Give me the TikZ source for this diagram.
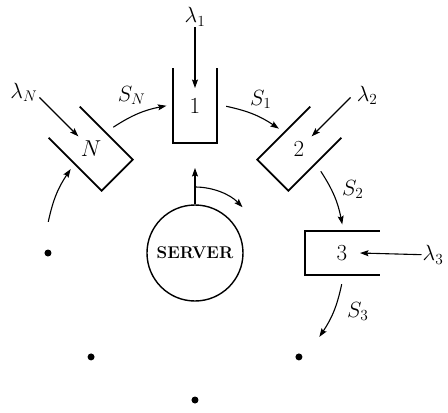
\RequirePackage{fix-cm}
\documentclass[tikz,border=0pt]{standalone}
\usepackage{amsmath,amssymb}
\usepackage{tikz}
\usetikzlibrary{arrows.meta, positioning, calc}

\begin{document}
\begin{tikzpicture}[
    x=1pt, y=1pt,
    >={Stealth[length=8.5pt, width=6pt, inset=1.5pt]},
    wall/.style={draw=black, line width=1.7pt, line join=miter},
    arrow/.style={->, draw=black, line width=1.1pt},
    qnum/.style={font=\fontsize{23}{27}\selectfont, inner sep=1pt},
    label_text/.style={font=\fontsize{22}{26}\selectfont, inner sep=1pt},
    server/.style={circle, draw=black, line width=1.4pt, minimum size=96pt, inner sep=0pt, font=\fontsize{17}{20}\selectfont\bfseries},
    dot/.style={circle, fill=black, inner sep=0pt, minimum size=7pt}
]
\useasboundingbox (-195,-160) rectangle (253,253);

% Server
\node (srv) [server] at (0,0) {SERVER};
\coordinate (spin) at (90:66);
\draw [arrow] (srv.north) -- (90:85);
\draw [arrow] (spin) arc[start angle=90, end angle=44, radius=66];

% Queues, closed end towards the server
\foreach \ang/\qname/\txt in {90/q1/1, 45/q2/2, 0/q3/3, 135/qN/$N$} {
  \draw [wall, rotate=\ang] (185,22) -- (110,22) -- (110,-22) -- (185,-22);
  \node (\qname) [qnum] at (\ang:147) {\txt};
  \coordinate (\qname-arr) at (\ang:165);
  \coordinate (\qname-tail) at (\ang:220);
  \coordinate (\qname-in) at (\ang+11:150);
  \coordinate (\qname-out) at (\ang-12:150);
}

% Dots for the other queues
\foreach \ang [count=\i] in {180,225,270,315}
  \node (dot\i) [dot] at (\ang:147) {};
\coordinate (dot1-out) at (168:150);
\coordinate (dot4-in) at (-34:150);

% Arrivals
\node (lam1) [label_text] at (90:236) {$\lambda_1$};
\node (lam3) [label_text] at (238,-2) {$\lambda_3$};
\node (lam2) [label_text, right=5pt of q2-tail, yshift=2pt] {$\lambda_2$};
\node (lamN) [label_text, left=1pt of qN-tail, yshift=5pt] {$\lambda_N$};

\draw [arrow] (lam1) -- (q1-arr);
\draw [arrow] (lam3) -- (q3-arr);
\draw [arrow] (q2-tail) -- (q2-arr);
\draw [arrow] (qN-tail) -- (qN-arr);

% Service paths
\draw [arrow] (dot1-out) to[bend left=11] (qN-in);
\draw [arrow] (qN-out) to[bend left=11] node[label_text, anchor=south, yshift=7pt, xshift=-7pt] {$S_N$} (q1-in);
\draw [arrow] (q1-out) to[bend left=11] node[label_text, anchor=south, yshift=4pt, xshift=7pt] {$S_1$} (q2-in);
\draw [arrow] (q2-out) to[bend left=11] node[label_text, anchor=west, yshift=7pt, xshift=6pt] {$S_2$} (q3-in);
\draw [arrow] (q3-out) to[bend left=11] node[label_text, anchor=west, xshift=12pt] {$S_3$} (dot4-in);

\end{tikzpicture}
\end{document}
